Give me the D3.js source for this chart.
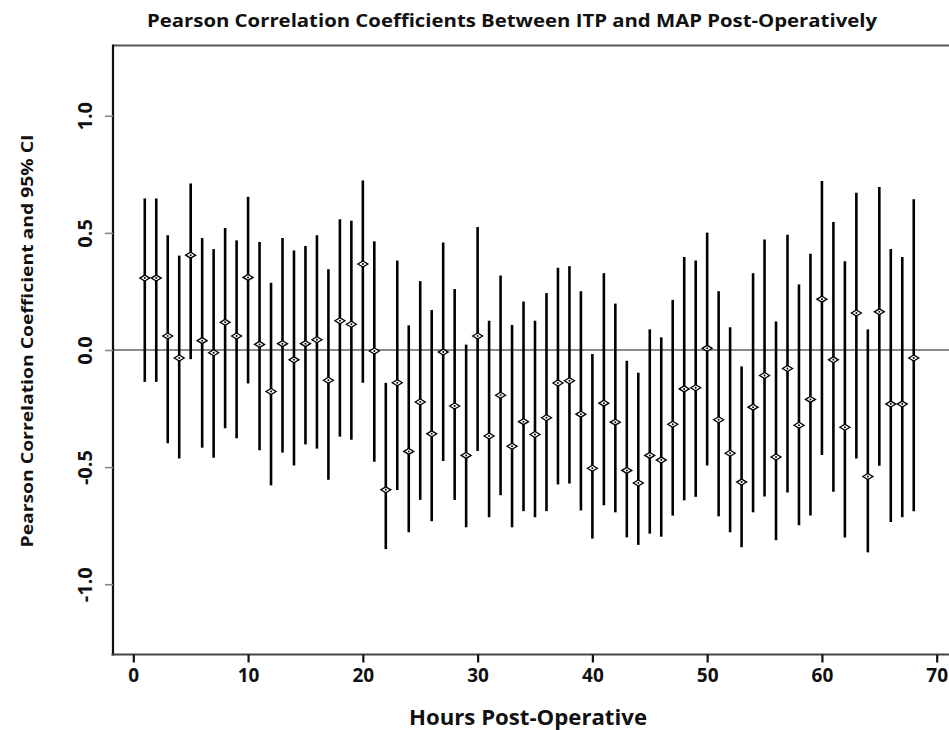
<!DOCTYPE html>
<html>
<head>
<meta charset="utf-8">
<script src="https://cdn.jsdelivr.net/npm/d3@7"></script>
<style>
  html, body { margin: 0; padding: 0; background: #fff; }
  svg { display: block; }
  text { font-family: "Open Sans", "Liberation Sans", sans-serif; font-weight: 700; fill: #111; }
</style>
</head>
<body>
<svg id="chart" width="949" height="730"></svg>
<script>
// ---- Data ----
const hours = d3.range(1, 69);
const rValues = [
  0.307, 0.307, 0.060, -0.034, 0.405, 0.040, -0.012, 0.118, 0.060, 0.310,
  0.024, -0.177, 0.027, -0.042, 0.027, 0.044, -0.129, 0.125, 0.110, 0.367,
  -0.004, -0.597, -0.140, -0.433, -0.222, -0.358, -0.009, -0.239, -0.450, 0.060,
  -0.367, -0.193, -0.411, -0.306, -0.361, -0.289, -0.141, -0.131, -0.274, -0.505,
  -0.227, -0.308, -0.514, -0.568, -0.450, -0.470, -0.317, -0.166, -0.161, 0.007,
  -0.298, -0.441, -0.564, -0.244, -0.109, -0.457, -0.079, -0.321, -0.211, 0.217,
  -0.042, -0.330, 0.158, -0.540, 0.163, -0.231, -0.231, -0.034
];
const upperCI = [
  0.647, 0.647, 0.490, 0.403, 0.711, 0.478, 0.431, 0.521, 0.468, 0.654,
  0.461, 0.287, 0.478, 0.425, 0.444, 0.490, 0.345, 0.558, 0.552, 0.724,
  0.464, -0.140, 0.382, 0.105, 0.294, 0.171, 0.459, 0.260, 0.023, 0.525,
  0.125, 0.318, 0.107, 0.207, 0.125, 0.243, 0.351, 0.358, 0.251, -0.017,
  0.328, 0.198, -0.046, -0.097, 0.088, 0.054, 0.214, 0.397, 0.382, 0.501,
  0.251, 0.097, -0.070, 0.328, 0.472, 0.122, 0.492, 0.280, 0.411, 0.722,
  0.546, 0.379, 0.671, 0.088, 0.696, 0.431, 0.397, 0.644
];
const lowerCI = [
  -0.136, -0.136, -0.398, -0.463, -0.039, -0.417, -0.460, -0.334, -0.377, -0.143,
  -0.428, -0.578, -0.438, -0.493, -0.403, -0.421, -0.554, -0.370, -0.383, -0.140,
  -0.477, -0.850, -0.598, -0.778, -0.640, -0.731, -0.474, -0.640, -0.757, -0.431,
  -0.714, -0.620, -0.757, -0.688, -0.714, -0.688, -0.574, -0.570, -0.685, -0.805,
  -0.663, -0.693, -0.800, -0.832, -0.784, -0.797, -0.707, -0.642, -0.627, -0.493,
  -0.710, -0.778, -0.842, -0.693, -0.625, -0.812, -0.608, -0.748, -0.707, -0.448,
  -0.605, -0.800, -0.463, -0.864, -0.494, -0.734, -0.714, -0.688
];
const xTicks = [0, 10, 20, 30, 40, 50, 60, 70];
const yTicks = [-1.0, -0.5, 0.0, 0.5, 1.0];
const yTickLabels = ["-1.0", "-0.5", "0.0", "0.5", "1.0"];
const titleText = "Pearson Correlation Coefficients Between ITP and MAP Post-Operatively";
const xTitle = "Hours Post-Operative";
const yTitle = "Pearson Correlation Coefficient and 95% CI";

// ---- Layout ----
const svg = d3.select("#chart");
const frameLeft = 113, frameTop = 45.5, frameBottom = 654.5, frameRight = 949;

const x = d3.scaleLinear().domain([0, 70]).range([133.3, 936.7]);
const y = d3.scaleLinear().domain([-1.3, 1.3]).range([frameBottom, frameTop]);

const data = hours.map((h, i) => ({ h, r: rValues[i], lo: lowerCI[i], hi: upperCI[i] }));

// Zero reference line
svg.append("line")
  .attr("x1", frameLeft).attr("x2", frameRight)
  .attr("y1", y(0)).attr("y2", y(0))
  .attr("stroke", "#8a8a8a").attr("stroke-width", 2);

// Error bars
svg.append("g").selectAll("line").data(data).join("line")
  .attr("x1", d => x(d.h)).attr("x2", d => x(d.h))
  .attr("y1", d => y(d.hi)).attr("y2", d => y(d.lo))
  .attr("stroke", "#000").attr("stroke-width", 2.6);

// Point markers (open diamonds)
svg.append("g").selectAll("path").data(data).join("path")
  .attr("transform", d => `translate(${x(d.h)},${y(d.r)})`)
  .attr("d", "M-5,0 L0,-3 L5,0 L0,3 Z")
  .attr("fill", "#fff").attr("stroke", "#000").attr("stroke-width", 1.3);
svg.append("g").selectAll("circle").data(data).join("circle")
  .attr("cx", d => x(d.h)).attr("cy", d => y(d.r)).attr("r", 1)
  .attr("fill", "#000");

// Frame: top border, left axis, bottom axis
svg.append("line").attr("x1", frameLeft).attr("x2", frameRight)
  .attr("y1", frameTop).attr("y2", frameTop)
  .attr("stroke", "#555").attr("stroke-width", 2);
svg.append("line").attr("x1", frameLeft).attr("x2", frameLeft)
  .attr("y1", frameTop - 1).attr("y2", frameBottom + 1)
  .attr("stroke", "#111").attr("stroke-width", 2.2);
svg.append("line").attr("x1", frameLeft - 1.5).attr("x2", frameRight)
  .attr("y1", frameBottom).attr("y2", frameBottom)
  .attr("stroke", "#444").attr("stroke-width", 2);

// X axis ticks + labels
const xAxis = d3.axisBottom(x).tickValues(xTicks).tickSize(8).tickSizeOuter(0).tickPadding(6);
const gx = svg.append("g").attr("transform", `translate(0,${frameBottom})`).call(xAxis);
gx.select(".domain").remove();
gx.selectAll(".tick line").attr("stroke", "#111").attr("stroke-width", 2.2);
gx.selectAll(".tick text").attr("font-size", 19).attr("font-weight", 700)
  .attr("font-family", "'Open Sans', sans-serif").attr("fill", "#111");

// Y axis ticks + rotated labels
const yAxis = d3.axisLeft(y).tickValues(yTicks).tickSize(8).tickSizeOuter(0)
  .tickFormat((d, i) => yTickLabels[i]);
const gy = svg.append("g").attr("transform", `translate(${frameLeft},0)`).call(yAxis);
gy.select(".domain").remove();
gy.selectAll(".tick line").attr("stroke", "#888").attr("stroke-width", 1.6);
gy.selectAll(".tick text")
  .attr("x", null).attr("dy", null)
  .attr("transform", "translate(-21,0) rotate(-90)")
  .attr("text-anchor", "middle")
  .attr("font-size", 20).attr("font-weight", 700)
  .attr("font-family", "'Open Sans', sans-serif").attr("fill", "#111");

// Titles
svg.append("text").attr("x", 512).attr("y", 26.5)
  .attr("text-anchor", "middle").attr("font-size", 17.5)
  .attr("textLength", 730).attr("lengthAdjust", "spacingAndGlyphs")
  .text(titleText);

svg.append("text").attr("x", 528).attr("y", 725)
  .attr("text-anchor", "middle").attr("font-size", 21)
  .attr("textLength", 238).attr("lengthAdjust", "spacingAndGlyphs")
  .text(xTitle);

svg.append("text").attr("transform", "translate(33,341) rotate(-90)")
  .attr("text-anchor", "middle").attr("font-size", 15.5)
  .attr("textLength", 413).attr("lengthAdjust", "spacingAndGlyphs")
  .text(yTitle);
</script>
</body>
</html>
